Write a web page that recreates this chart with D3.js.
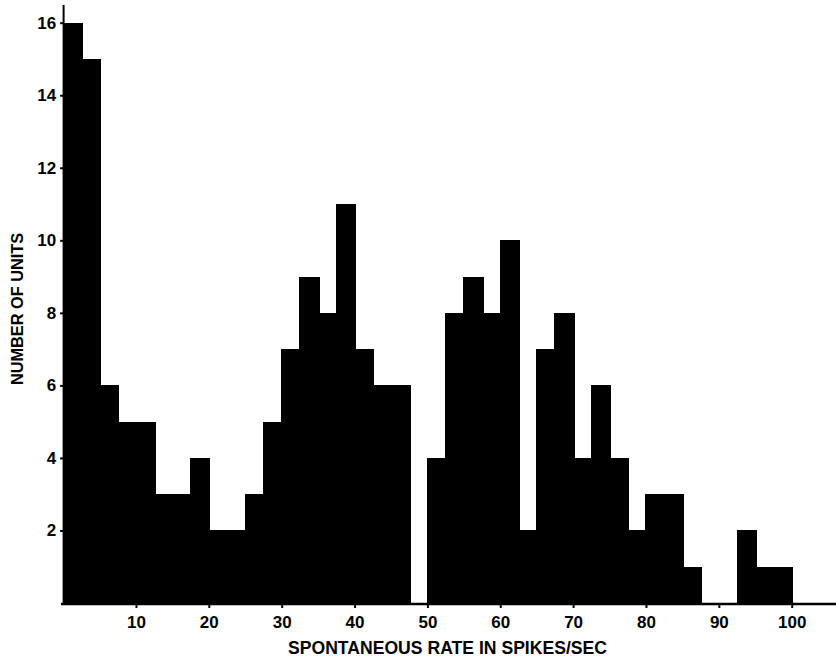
<!DOCTYPE html>
<html>
<head>
<meta charset="utf-8">
<script src="https://cdn.jsdelivr.net/npm/d3@7"></script>
<style>
  html, body { margin: 0; padding: 0; background: #fff; }
  svg { display: block; }
  text { font-family: "Liberation Sans", Arial, sans-serif; font-weight: bold; fill: #000; }
</style>
</head>
<body>
<svg id="chart" width="836" height="663"></svg>
<script>
// Bin lower edges (spikes/sec), bin width 2.5
const binStarts = [0, 2.5, 5, 7.5, 10, 12.5, 15, 17.5, 20, 22.5,
                   25, 27.5, 30, 32.5, 35, 37.5, 40, 42.5, 45, 47.5,
                   50, 52.5, 55, 57.5, 60, 62.5, 65, 67.5, 70, 72.5,
                   75, 77.5, 80, 82.5, 85, 87.5, 90, 92.5, 95, 97.5];
const binWidth = 2.5;
// Number of units per bin
const counts = [16, 15, 6, 5, 5, 3, 3, 4, 2, 2,
                3, 5, 7, 9, 8, 11, 7, 6, 6, 0,
                4, 8, 9, 8, 10, 2, 7, 8, 4, 6,
                4, 2, 3, 3, 1, 0, 0, 2, 1, 1];
const xTicks = [10, 20, 30, 40, 50, 60, 70, 80, 90, 100];
const yTicks = [2, 4, 6, 8, 10, 12, 14, 16];
const xTitle = "SPONTANEOUS RATE IN SPIKES/SEC";
const yTitle = "NUMBER OF UNITS";

const svg = d3.select("#chart");
const x = d3.scaleLinear().domain([0, 100]).range([63.1, 791.7]);
const y = d3.scaleLinear().domain([0, 16]).range([603, 22.7]);

const data = binStarts.map((s, i) => ({ x0: s, x1: s + binWidth, n: counts[i] }));

// Bars (integer-aligned, overlapping by one pixel so neighbours merge)
svg.append("g")
  .attr("shape-rendering", "crispEdges")
  .selectAll("rect")
  .data(data.filter(d => d.n > 0))
  .join("rect")
  .attr("x", d => Math.floor(x(d.x0)))
  .attr("y", d => Math.round(y(d.n)))
  .attr("width", d => Math.ceil(x(d.x1)) - Math.floor(x(d.x0)) + 1)
  .attr("height", d => Math.round(y(0)) - Math.round(y(d.n)) + 1)
  .attr("fill", "#000");

// X axis
const xAxis = svg.append("g")
  .attr("transform", `translate(0,${y(0)})`)
  .call(d3.axisBottom(x).tickValues(xTicks).tickSize(5).tickPadding(8).tickFormat(d3.format("d")));
xAxis.select(".domain").remove();
xAxis.selectAll(".tick line").attr("stroke", "#000").attr("stroke-width", 2);
xAxis.selectAll(".tick text")
  .style("font-family", "'Liberation Sans', Arial, sans-serif")
  .style("font-weight", "bold")
  .style("font-size", "17px")
  .attr("fill", "#000");
svg.append("line")
  .attr("x1", 61).attr("x2", 836)
  .attr("y1", y(0) + 1).attr("y2", y(0) + 1)
  .attr("stroke", "#000").attr("stroke-width", 2.5);

// Y axis
const yAxis = svg.append("g")
  .attr("transform", `translate(${x(0)},0)`)
  .call(d3.axisLeft(y).tickValues(yTicks).tickSize(3).tickPadding(4).tickFormat(d3.format("d")));
yAxis.select(".domain").remove();
yAxis.selectAll(".tick line").attr("stroke", "#000").attr("stroke-width", 2);
yAxis.selectAll(".tick text")
  .style("font-family", "'Liberation Sans', Arial, sans-serif")
  .style("font-weight", "bold")
  .style("font-size", "17px")
  .attr("fill", "#000");
svg.append("line")
  .attr("x1", x(0) + 0.5).attr("x2", x(0) + 0.5)
  .attr("y1", 5).attr("y2", y(0) + 2)
  .attr("stroke", "#000").attr("stroke-width", 2);

// Titles
svg.append("text")
  .attr("x", 447.5).attr("y", 654)
  .attr("text-anchor", "middle")
  .attr("textLength", 319).attr("lengthAdjust", "spacingAndGlyphs")
  .style("font-size", "17.5px")
  .text(xTitle);

svg.append("text")
  .attr("transform", "translate(22.5,309) rotate(-90)")
  .attr("text-anchor", "middle")
  .attr("textLength", 152).attr("lengthAdjust", "spacingAndGlyphs")
  .style("font-size", "16px")
  .text(yTitle);
</script>
</body>
</html>
